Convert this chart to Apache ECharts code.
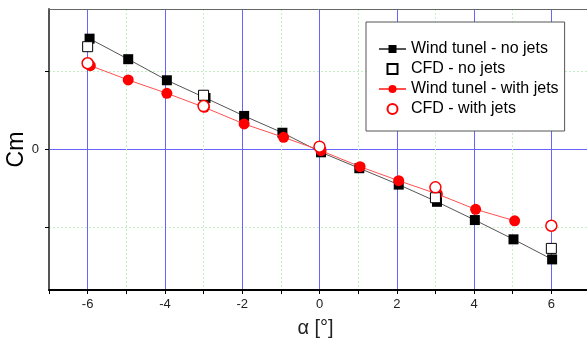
<!DOCTYPE html>
<html>
<head>
<meta charset="utf-8">
<script src="https://cdn.jsdelivr.net/npm/echarts@6/dist/echarts.min.js"></script>
<style>html,body{margin:0;padding:0;background:#fff;}#c{width:587px;height:338px;}</style>
</head>
<body>
<div id="c"></div>
<script>
// Wind tunnel - no jets
const wtNoJetsAlpha = [-5.95, -4.95, -3.95, -2.95, -1.95, -0.96, 0.04, 1.03, 2.05, 3.04, 4.02, 5.02, 6.02];
const wtNoJetsCm    = [1.42, 1.157, 0.887, 0.66, 0.43, 0.215, -0.036, -0.24, -0.45, -0.67, -0.904, -1.151, -1.408];
// CFD - no jets
const cfdNoJetsAlpha = [-6, -3, 3, 6];
const cfdNoJetsCm    = [1.317, 0.695, -0.618, -1.267];
// Wind tunnel - with jets
const wtJetsAlpha = [-5.93, -4.95, -3.95, -2.98, -1.95, -0.93, 0.04, 1.05, 2.05, 3.05, 4.04, 5.05];
const wtJetsCm    = [1.074, 0.891, 0.72, 0.54, 0.327, 0.156, -0.015, -0.22, -0.40, -0.57, -0.767, -0.913];
// CFD - with jets
const cfdJetsAlpha = [-6, -3, 0, 3, 6];
const cfdJetsCm    = [1.105, 0.557, 0.036, -0.485, -0.977];

// axis ticks, labels and grid lines
const xTickValues  = [-7, -6, -5, -4, -3, -2, -1, 0, 1, 2, 3, 4, 5, 6, 7];
const xLabelValues = [-6, -4, -2, 0, 2, 4, 6];
const xMajorGrid   = [-6, -4, -2, 0, 2, 4, 6];
const xMinorGrid   = [-5, -3, -1, 1, 3, 5];
const yTickValues  = [-1, 0, 1];
const yLabelValues = [0];
const yMajorGrid   = [0];
const yMinorGrid   = [-1, 1];

const seriesNames = ['Wind tunel - no jets', 'CFD - no jets', 'Wind tunel - with jets', 'CFD - with jets'];

function zip(a, b) { return a.map((v, i) => [v, b[i]]); }

const X_MIN = -7, X_MAX = 7, Y_MIN = -1.8, Y_MAX = 1.8;
const MAJOR = '#6666ff', MINOR = '#c4f0c4';

function gridAxisX(values, color, type) {
  return {
    type: 'value', min: X_MIN, max: X_MAX, position: 'bottom',
    axisLine: {show: false}, axisLabel: {show: false},
    axisTick: {show: false, customValues: values},
    splitLine: {show: true, lineStyle: {color: color, width: 1, type: type}}
  };
}
function gridAxisY(values, color, type) {
  return {
    type: 'value', min: Y_MIN, max: Y_MAX, position: 'left',
    axisLine: {show: false}, axisLabel: {show: false},
    axisTick: {show: false, customValues: values},
    splitLine: {show: true, lineStyle: {color: color, width: 1, type: type}}
  };
}

const squareIcon = 'path://M0,0L10,0L10,10L0,10Z';

const chart = echarts.init(document.getElementById('c'), null, {renderer: 'canvas'});
chart.setOption({
  animation: false,
  backgroundColor: '#ffffff',
  textStyle: {fontFamily: 'Liberation Sans, Arial, sans-serif'},
  grid: {left: 49, right: -3, top: 9, bottom: 48, containLabel: false, outerBoundsMode: 'none'},
  legend: {
    data: [
      {name: seriesNames[0]},
      {name: seriesNames[1], icon: squareIcon},
      {name: seriesNames[2]},
      {name: seriesNames[3], icon: 'circle'}
    ],
    orient: 'vertical',
    left: 366, top: 22,
    padding: [19, 6, 14, 12],
    itemWidth: 27, itemHeight: 10, itemGap: 4,
    symbolKeepAspect: true,
    borderColor: '#555', borderWidth: 1, backgroundColor: '#fff',
    textStyle: {fontSize: 16, lineHeight: 14, color: '#000', fontFamily: 'Liberation Sans, Arial, sans-serif'}
  },
  xAxis: [{
    type: 'value', min: X_MIN, max: X_MAX, position: 'bottom', z: 3,
    axisLine: {show: true, onZero: false, lineStyle: {color: '#000', width: 2}},
    axisTick: {show: true, inside: false, length: 4, customValues: xTickValues, lineStyle: {color: '#000', width: 1}},
    axisLabel: {fontSize: 13, color: '#222', margin: 8, customValues: xLabelValues},
    splitLine: {show: false},
    name: 'α [°]', nameLocation: 'middle', nameGap: 28, nameMoveOverlap: false,
    nameTextStyle: {fontSize: 20, color: '#222', padding: [0, 8, 0, 0]}
  }, {
    type: 'value', min: X_MIN, max: X_MAX, position: 'top', z: 3,
    axisLine: {show: true, onZero: false, lineStyle: {color: '#666', width: 1}},
    axisTick: {show: false}, axisLabel: {show: false}, splitLine: {show: false}
  },
    gridAxisX(xMinorGrid, MINOR, [2, 2]),
    gridAxisX(xMajorGrid, MAJOR, 'solid')
  ],
  yAxis: [{
    type: 'value', min: Y_MIN, max: Y_MAX, z: 3,
    axisLine: {show: true, onZero: false, lineStyle: {color: '#555', width: 2}},
    axisTick: {show: true, inside: false, length: 4, customValues: yTickValues, lineStyle: {color: '#000'}},
    axisLabel: {fontSize: 13, color: '#222', margin: 10, customValues: yLabelValues},
    splitLine: {show: false},
    name: 'Cm', nameLocation: 'middle', nameGap: 21, nameRotate: 90, nameMoveOverlap: false,
    nameTextStyle: {fontSize: 23, color: '#000'}
  },
    gridAxisY(yMinorGrid, MINOR, [2, 2]),
    gridAxisY(yMajorGrid, MAJOR, 'solid')
  ],
  series: [
    {
      name: seriesNames[0], type: 'line', z: 2,
      data: zip(wtNoJetsAlpha, wtNoJetsCm),
      symbol: 'rect', symbolSize: 10,
      itemStyle: {color: '#000'},
      lineStyle: {color: '#555', width: 1}
    },
    {
      name: seriesNames[1], type: 'scatter', z: 4,
      data: zip(cfdNoJetsAlpha, cfdNoJetsCm),
      symbol: 'rect', symbolSize: 10,
      itemStyle: {color: '#fff', borderColor: '#000', borderWidth: 1, opacity: 1}
    },
    {
      name: seriesNames[2], type: 'line', z: 3,
      data: zip(wtJetsAlpha, wtJetsCm),
      symbol: 'circle', symbolSize: 11,
      itemStyle: {color: '#ff0000'},
      lineStyle: {color: '#ff5050', width: 1}
    },
    {
      name: seriesNames[3], type: 'scatter', z: 5,
      data: zip(cfdJetsAlpha, cfdJetsCm),
      symbol: 'circle', symbolSize: 11,
      itemStyle: {color: '#fff', borderColor: '#ff0000', borderWidth: 1.5, opacity: 1}
    }
  ]
});
</script>
</body>
</html>
